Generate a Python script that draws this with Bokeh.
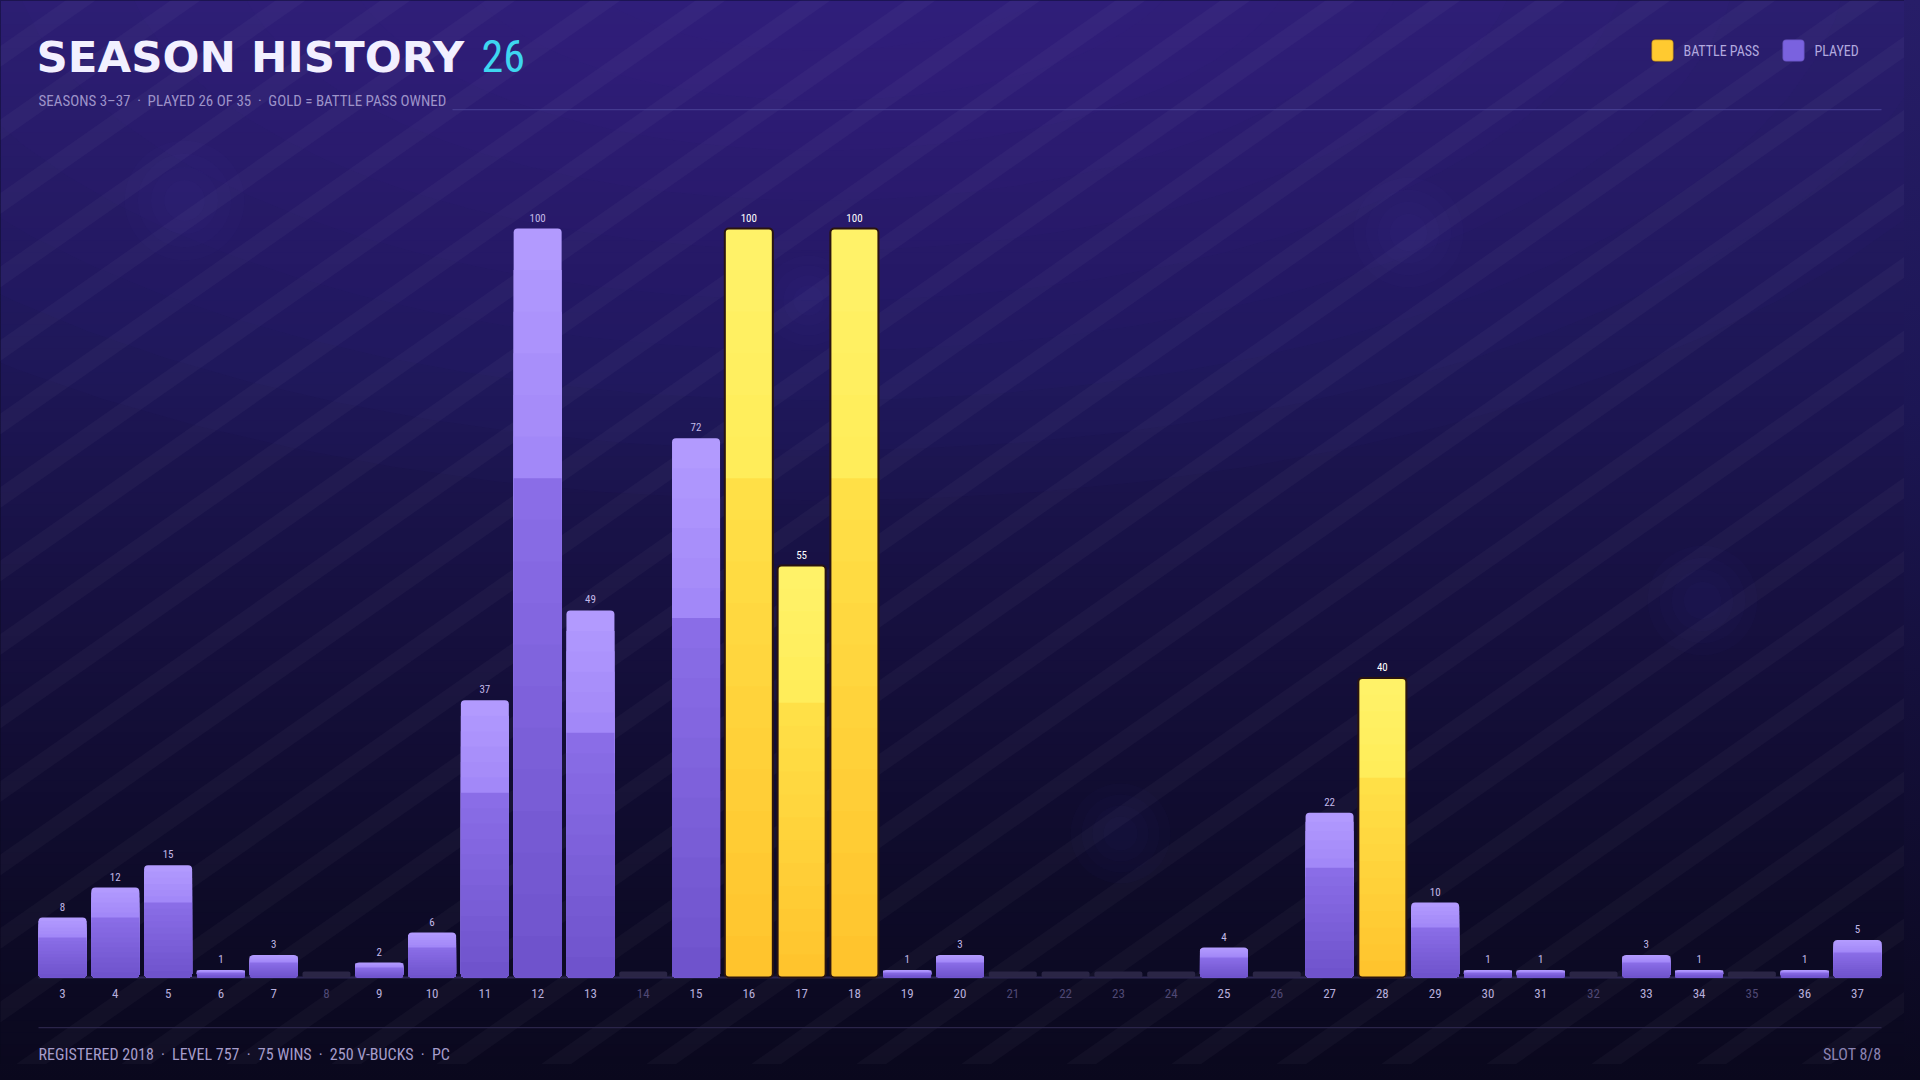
import math
from bokeh.plotting import figure
from bokeh.models import (Range1d, ColumnDataSource, BoxAnnotation, PolyAnnotation,
                          Label, GlobalInlineStyleSheet)
from bokeh.core.properties import value
from bokeh.embed import file_html
from bokeh.resources import INLINE

# ---------------- data ----------------
seasons = list(range(3, 38))
levels = [8, 12, 15, 1, 3, 0, 2, 6, 37, 100, 49, 0, 72, 100, 55, 100, 1, 3,
          0, 0, 0, 0, 4, 0, 22, 40, 10, 1, 1, 0, 3, 1, 0, 1, 5]
battle_pass_seasons = [16, 17, 18, 28]
tick_labels = [str(s) for s in seasons]

title_text = "SEASON HISTORY"
played_text = "26"
subtitle_parts = ["SEASONS 3\u201337", "PLAYED 26 OF 35", "GOLD = BATTLE PASS OWNED"]
footer_parts = ["REGISTERED 2018", "LEVEL 757", "75 WINS", "250 V-BUCKS", "PC"]
slot_text = "SLOT 8/8"
legend_labels = ["BATTLE PASS", "PLAYED"]

# ---------------- layout ----------------
W, H = 1904, 1064
NARROW = "Roboto Condensed, DejaVu Sans Condensed, sans-serif"
HEAVY = "DejaVu Sans"
SEP = "\u2002\u00b7\u2002"


def sx(rx):
    return rx


def sy(ry):
    return H - ry


CH_L, CH_R, BASE, PPU = 38, 1881, 977, 7.49
BAR_PX = 48
n = len(seasons)
pitch = (CH_R - CH_L - BAR_PX) / (n - 1)
first_center = CH_L + BAR_PX / 2
BW = BAR_PX / pitch
xs0 = seasons[0] - first_center / pitch
xs1 = xs0 + W / pitch
ys0 = -(H - BASE) / PPU
ys1 = ys0 + H / PPU

p = figure(width=W, height=H, output_backend="svg", toolbar_location=None,
           x_axis_type=None, y_axis_type=None, min_border=0,
           x_range=Range1d(xs0, xs1), y_range=Range1d(ys0, ys1))
p.outline_line_color = None
p.background_fill_color = "#0a081d"
p.border_fill_color = "#0a081d"
p.stylesheets = [GlobalInlineStyleSheet(
    css="html{background:linear-gradient(180deg,#271d68 0%,#1c1654 38%,#140f3a 65%,#0a081d 100%);min-height:100%;}")]


def hex2rgb(c):
    c = c.lstrip("#")
    return tuple(int(c[i:i + 2], 16) for i in (0, 2, 4))


def lerp(c1, c2, t):
    a, b = hex2rgb(c1), hex2rgb(c2)
    return "#%02x%02x%02x" % tuple(int(round(a[i] + (b[i] - a[i]) * t)) for i in range(3))


def multi(stops, t):
    for (t0, c0), (t1, c1) in zip(stops[:-1], stops[1:]):
        if t <= t1:
            return lerp(c0, c1, (t - t0) / (t1 - t0) if t1 > t0 else 0)
    return stops[-1][1]


def screen_box(l, r, t, b, **kw):
    return BoxAnnotation(left=sx(l), right=sx(r), top=sy(t), bottom=sy(b),
                         left_units="screen", right_units="screen",
                         top_units="screen", bottom_units="screen", **kw)


def screen_poly(pts, **kw):
    return PolyAnnotation(xs=[sx(x) for x, _ in pts], ys=[sy(y) for _, y in pts],
                          xs_units="screen", ys_units="screen", line_alpha=0,
                          level="underlay", **kw)


def screen_label(x, y, text, font, size, color, align="left", style="normal"):
    return Label(x=sx(x), y=sy(y), x_units="screen", y_units="screen", text=text,
                 text_font=font, text_font_size=size, text_color=color,
                 text_font_style=style, text_align=align, text_baseline="middle")


# ---------------- background ----------------
bg_stops = [(0, "#281e6a"), (380, "#1d1655"), (650, "#150f3c"), (880, "#0e0b29"), (1080, "#0a081d")]
NB = 90
for i in range(NB):
    a = i * 1080 / NB
    b = (i + 1) * 1080 / NB
    p.add_layout(screen_box(0, 1920, a, b + 0.6, fill_color=multi(bg_stops, (a + b) / 2),
                            fill_alpha=1, line_alpha=0, level="underlay"))

# soft glow along the top
for k in range(10):
    rx = 1250 - k * 110
    ry = 560 - k * 50
    cx, cy = 820, -60
    pts = [(cx + rx * math.cos(t * 2 * math.pi / 72), cy + ry * math.sin(t * 2 * math.pi / 72)) for t in range(72)]
    p.add_layout(screen_poly(pts, fill_color="#3a2c98", fill_alpha=0.045))

# soft particles
for (cx, cy, r) in [(184, 200, 60), (1408, 232, 55), (1120, 833, 50), (1702, 600, 55), (808, 300, 45)]:
    for k in range(4):
        rr = r * (1 - k * 0.22)
        pts = [(cx + rr * math.cos(t * 2 * math.pi / 40), cy + rr * math.sin(t * 2 * math.pi / 40)) for t in range(40)]
        p.add_layout(screen_poly(pts, fill_color="#6a5ac8", fill_alpha=0.025))

# diagonal stripes
SLOPE = 0.70
SPACING, SW = 105, 30
c = -40.0
while c < 1920 + 1100 / SLOPE + 100:
    xt = c + 20 / SLOPE
    xb = c - 1100 / SLOPE
    poly = [(xt, -20), (xt + SW, -20), (xb + SW, 1100), (xb, 1100)]
    p.add_layout(screen_poly(poly, fill_color="#ffffff", fill_alpha=0.032))
    c += SPACING

# ---------------- bars ----------------
PURPLE = [(0.0, "#b39cff"), (1 / 3, "#a186f7"), (1 / 3 + 1e-9, "#8b6ee8"), (1.0, "#6e52cb")]
GOLD = [(0.0, "#fff36a"), (1 / 3, "#ffec58"), (1 / 3 + 1e-9, "#ffe148"), (1.0, "#ffc32c")]
NS = 18

played = [(s, v) for s, v in zip(seasons, levels) if v > 0]
unplayed = [s for s, v in zip(seasons, levels) if v == 0]

full = dict(x=[], top=[], color=[])
slices = dict(x=[], top=[], color=[])
gold_bars = dict(x=[], top=[])
for s, v in played:
    gold = s in battle_pass_seasons
    stops = GOLD if gold else PURPLE
    full["x"].append(s)
    full["top"].append(v)
    full["color"].append(multi(stops, 0.5 / NS))
    if gold:
        gold_bars["x"].append(s)
        gold_bars["top"].append(v)
    for j in range(1, NS):
        slices["x"].append(s)
        slices["top"].append(v * (1 - j / NS))
        slices["color"].append(multi(stops, (j + 0.5) / NS))

# baseline
p.segment(x0=[seasons[0] - BW / 2], y0=[0], x1=[seasons[-1] + BW / 2], y1=[0],
          line_color="#2c2652", line_width=2)

# unplayed stubs
p.vbar(x=unplayed, top=[6 / PPU] * len(unplayed), bottom=0, width=BW,
       fill_color="#2a2545", line_color=None, border_radius=2)

p.vbar(x="x", top="top", bottom=0, width=BW, source=ColumnDataSource(full),
       fill_color="color", line_color=None, border_radius=4)
p.vbar(x="x", top="top", bottom=0, width=BW, source=ColumnDataSource(slices),
       fill_color="color", line_color=None, border_radius=(0, 0, 4, 4))
p.vbar(x="x", top="top", bottom=0, width=BW, source=ColumnDataSource(gold_bars),
       fill_color=None, line_color="#2a1410", line_width=2, border_radius=4)

# value labels
vl = dict(x=[s for s, _ in played], y=[v for _, v in played],
          t=[str(v) for _, v in played],
          c=["#ffffff" if s in battle_pass_seasons else "#c2b9e8" for s, _ in played])
p.text(x="x", y="y", text="t", source=ColumnDataSource(vl), text_color="c",
       text_font=value(NARROW), text_font_size="11px", text_align="center",
       text_baseline="bottom", y_offset=-7)

# tick labels
tl = dict(x=seasons, y=[0] * n, t=tick_labels,
          c=["#b7aedb" if v > 0 else "#4f4874" for v in levels])
p.text(x="x", y="y", text="t", source=ColumnDataSource(tl), text_color="c",
       text_font=value(NARROW), text_font_size="13px", text_align="center",
       text_baseline="middle", y_offset=16)

# ---------------- header ----------------
p.add_layout(screen_label(36, 56.5, title_text, HEAVY, "43.5px", "#f2f0ff", style="bold"))
p.add_layout(screen_label(481, 55.5, played_text, NARROW, "44px", "#3ed6f0"))
p.add_layout(screen_label(38, 100, SEP.join(subtitle_parts), NARROW, "15px", "#9d93c9"))
p.add_layout(screen_box(452, 1881, 108.5, 109.7, fill_color="#4a4196", fill_alpha=0.8,
                        line_alpha=0, level="annotation"))

# legend
leg_colors = ["#ffca30", "#7a62df"]
leg_lines = ["#3a1a12", "#3a2d7a"]
leg_box_x = [1651, 1782]
for lab, col, lc, bx in zip(legend_labels, leg_colors, leg_lines, leg_box_x):
    p.add_layout(screen_box(bx, bx + 22, 39, 61, fill_color=col, fill_alpha=1,
                            line_color=lc, line_width=1.5, border_radius=4, level="annotation"))
    p.add_layout(screen_label(bx + 32, 50, lab, NARROW, "14px", "#b2a9df"))

# ---------------- footer ----------------
p.add_layout(screen_box(38, 1881, 1026.5, 1027.7, fill_color="#2a2449", fill_alpha=1,
                        line_alpha=0, level="annotation"))
p.add_layout(screen_label(38, 1054, SEP.join(footer_parts), NARROW, "16px", "#a69dcb"))
p.add_layout(screen_label(1881, 1054, slot_text, NARROW, "16px", "#8c84b3", align="right"))

open("out.html", "w").write(file_html(p, INLINE))
